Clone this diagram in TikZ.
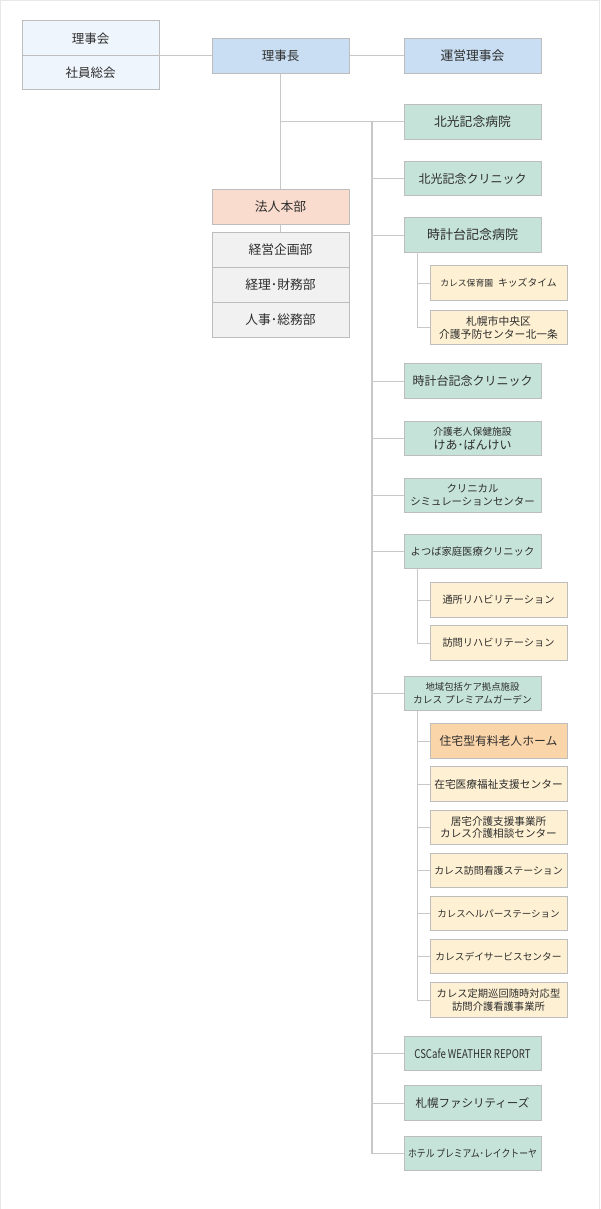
\documentclass[tikz,border=0pt]{standalone}
\usepackage{fontspec}
\usepackage{graphicx}
\setmainfont{Noto Sans CJK JP}
\definecolor{bordc}{HTML}{BDBDBD}
\definecolor{linec}{HTML}{C8C8C8}
\definecolor{txtc}{HTML}{2E2E2E}
\definecolor{paleblue}{HTML}{EFF5FC}
\definecolor{blue}{HTML}{C9DEF2}
\definecolor{green}{HTML}{C5E3D8}
\definecolor{pink}{HTML}{FADCCF}
\definecolor{grayf}{HTML}{F1F1F1}
\definecolor{cream}{HTML}{FEF0D2}
\definecolor{orange}{HTML}{FBD5AA}
\definecolor{framec}{HTML}{E8E8E8}
\newcommand{\fz}[1]{\fontsize{#1}{#1}\selectfont}
\tikzset{
  orgbox/.style={draw=bordc, line width=1pt, minimum width=137pt, minimum height=34.5pt,
    inner sep=0pt, align=center, text=txtc, font=\fontsize{12}{14.5}\selectfont},
  conn/.style={draw=linec, line width=1pt},
  trunk/.style={draw=linec, line width=1.6pt},
}
\begin{document}
\begin{tikzpicture}[x=1pt,y=-1pt]
\useasboundingbox (0,0) rectangle (600,1209);
\fill[white] (0,0) rectangle (600,1209);
\draw[framec, line width=1.2pt] (0.6,1209) -- (0.6,0.6) -- (599.4,0.6) -- (599.4,1209);

% top row
\node[orgbox, fill=paleblue, minimum height=35pt, font=\fz{12.5}] (rijikai) at (90.5,38.5) {理事会};
\node[orgbox, fill=paleblue, minimum height=34pt, font=\fz{12.5}] (shain) at (90.5,73) {社員総会};
\node[orgbox, fill=blue, font=\fz{12.5}] (rijicho) at (280.5,56) {理事長};
\node[orgbox, fill=blue, font=\fz{12.8}] (unei) at (472.5,56) {運営理事会};
\coordinate (split) at (159,56);
\draw[conn] (split) -- (rijicho.west);
\draw[conn] (rijicho.east) -- (unei.west);

% left column
\node[orgbox, fill=pink, font=\fz{12.8}] (hojin) at (280.5,207) {法人本部};
\node[orgbox, fill=grayf, minimum height=35pt, font=\fz{12.8}] (keiei) at (280.5,249.5) {経営企画部};
\node[orgbox, fill=grayf, minimum height=35pt, font=\fz{12.8}] (keiri) at (280.5,284.5) {経理･財務部};
\node[orgbox, fill=grayf, minimum height=35pt, font=\fz{12.8}] (jinji) at (280.5,319.5) {人事･総務部};
\draw[conn] (rijicho.south) -- (hojin.north);
\draw[conn] (hojin.south) -- (keiei.north);

% main column
\node[orgbox, fill=green, font=\fz{12.8}] (hk1) at (472.5,122) {北光記念病院};
\node[orgbox, fill=green, font=\fz{12}] (hk2) at (472.5,178.5) {北光記念クリニック};
\node[orgbox, fill=green, font=\fz{13}] (tk1) at (472.5,235) {時計台記念病院};
\node[orgbox, fill=cream] (kids) at (498.5,283) {\fz{8.8}カレス保育園\hspace{5pt}\fz{9.8}キッズタイム};
\node[orgbox, fill=cream, font=\fontsize{10.8}{13}\selectfont] (kita) at (498.5,327.5) {札幌市中央区\\介護予防センター北一条};
\node[orgbox, fill=green, font=\fz{12}] (tk2) at (472.5,381) {時計台記念クリニック};
\node[orgbox, fill=green, font=\fontsize{12}{14}\selectfont] (keah) at (472.5,438.5) {\fz{9.8}介護老人保健施設\\けあ･ばんけい};
\node[orgbox, fill=green, font=\fontsize{10.4}{13}\selectfont] (sim) at (472.5,495.5) {クリニカル\\シミュレーションセンター};
\node[orgbox, fill=green, font=\fz{10.3}] (yotsuba) at (472.5,551.5) {よつば家庭医療クリニック};
\node[orgbox, fill=cream, font=\fz{10.2}] (tsusho) at (498.5,600) {通所リハビリテーション};
\node[orgbox, fill=cream, font=\fz{10.2}] (homon) at (498.5,643) {訪問リハビリテーション};
\node[orgbox, fill=green, font=\fontsize{9.7}{13}\selectfont] (garden) at (472.5,693.5) {\fz{9.4}地域包括ケア拠点施設\\カレス\hspace{3pt}プレミアムガーデン};
\node[orgbox, fill=orange, font=\fz{11.8}] (home) at (498.5,741) {住宅型有料老人ホーム};
\node[orgbox, fill=cream, font=\fz{10.7}] (zaitaku) at (498.5,784) {在宅医療福祉支援センター};
\node[orgbox, fill=cream, font=\fontsize{10.6}{12.5}\selectfont] (kyotaku) at (498.5,827.5) {居宅介護支援事業所\\カレス介護相談センター};
\node[orgbox, fill=cream, font=\fz{9.9}] (kango) at (498.5,870.5) {カレス訪問看護ステーション};
\node[orgbox, fill=cream, font=\fz{9.5}] (helper) at (498.5,913.5) {カレスヘルパーステーション};
\node[orgbox, fill=cream, font=\fz{9.7}] (day) at (498.5,956.5) {カレスデイサービスセンター};
\node[orgbox, fill=cream, font=\fontsize{10.3}{12.5}\selectfont] (teiki) at (498.5,1000) {カレス定期巡回随時対応型\\訪問介護看護事業所};
\node[orgbox, fill=green] (cafe) at (472.5,1053.5) {\scalebox{0.8}[1]{\fz{12}CSCafe WEATHER REPORT}};
\node[orgbox, fill=green, font=\fz{11.5}] (facil) at (472.5,1103) {札幌ファシリティーズ};
\node[orgbox, fill=green] (hotel) at (472.5,1153.5) {\scalebox{0.84}[1]{\fz{10.5}ホテル\hspace{2pt}プレミアム･レイクトーヤ}};

% trunk
\coordinate (ttop) at (372,122);
\coordinate (hjoin) at (280.5,122);
\draw[conn] (hjoin) -- (hk1.west);
\draw[trunk] (ttop) -- (ttop |- hotel.west);
\foreach \n in {hk2,tk1,tk2,keah,sim,yotsuba,garden,cafe,facil,hotel}
  \draw[conn] (\n.west) -- (\n.west -| ttop);

% sub branches
\coordinate (s1) at (417,252.25);
\draw[conn] (s1) -- (s1 |- kita.west) -- (kita.west);
\draw[conn] (kids.west) -- (kids.west -| s1);
\coordinate (s2) at (417,568.75);
\draw[conn] (s2) -- (s2 |- homon.west) -- (homon.west);
\draw[conn] (tsusho.west) -- (tsusho.west -| s2);
\coordinate (s3) at (417,710.75);
\draw[conn] (s3) -- (s3 |- teiki.west) -- (teiki.west);
\foreach \n in {home,zaitaku,kyotaku,kango,helper,day}
  \draw[conn] (\n.west) -- (\n.west -| s3);
\end{tikzpicture}
\end{document}
